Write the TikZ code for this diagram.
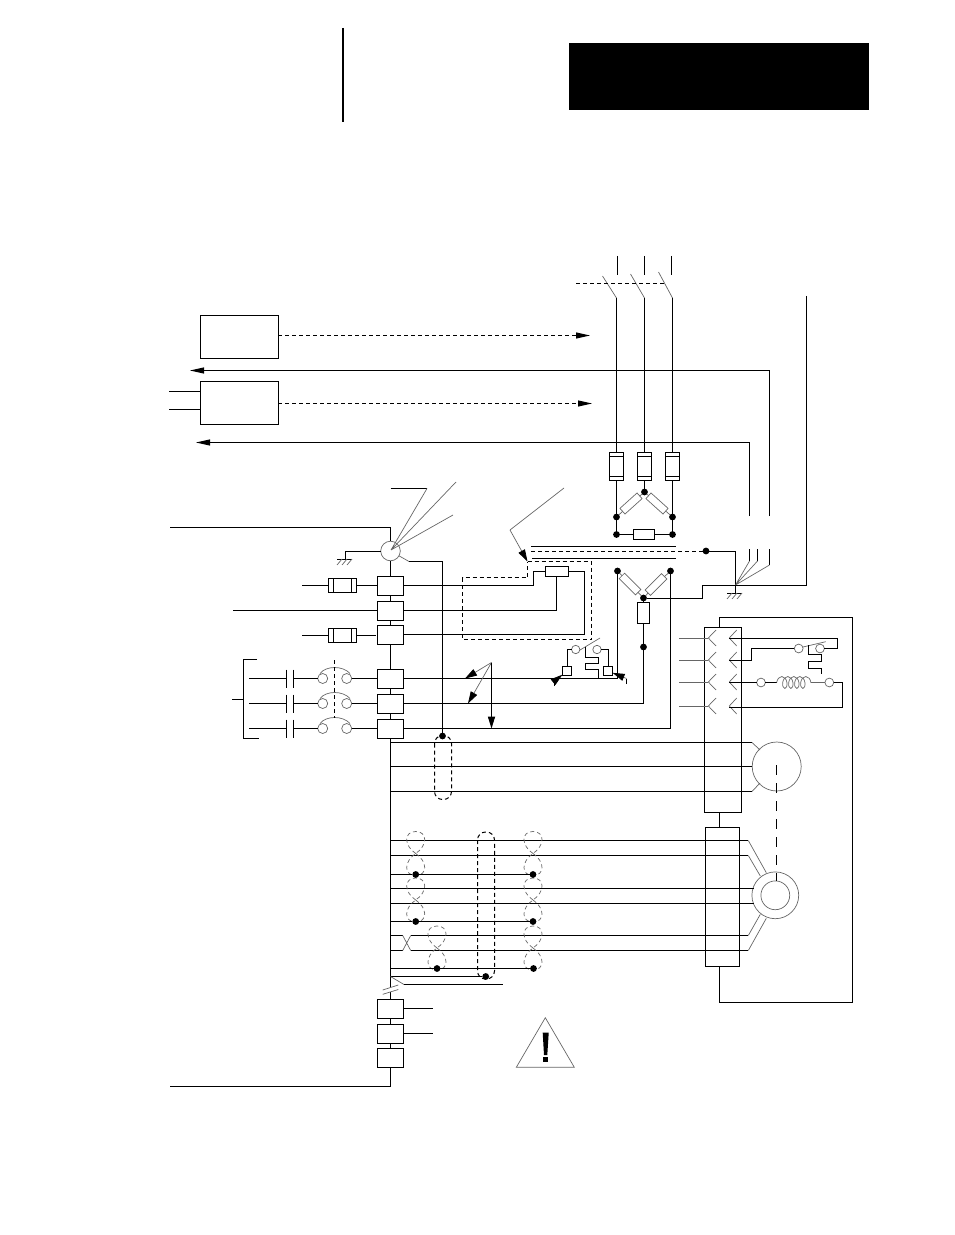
\documentclass[tikz,border=0pt]{standalone}
\usetikzlibrary{arrows.meta,decorations.pathmorphing}
\tikzset{
  termbox/.style={draw,fill=white,minimum width=13pt,minimum height=9.5pt,inner sep=0pt,outer sep=0pt},
  unitbox/.style={draw,inner sep=0pt,outer sep=0pt},
  dot/.style={circle,fill=black,inner sep=0pt,minimum size=3.4pt,outer sep=0pt},
  ring/.style={circle,draw=black!60,line width=0.35pt,inner sep=0pt,minimum size=4.4pt,outer sep=0pt},
  fusebox/.style={draw,inner sep=0pt,outer sep=0pt,minimum width=7pt,minimum height=14pt},
  sidefuse/.style={draw,inner sep=0pt,outer sep=0pt,minimum width=14pt,minimum height=7pt},
  resistor/.style={draw,inner sep=0pt,outer sep=0pt,minimum width=11pt,minimum height=5pt},
  slantres/.style={draw=black!60,line width=0.35pt,inner sep=0pt,outer sep=0pt,minimum width=11.5pt,minimum height=3.8pt},
  thinline/.style={line width=0.35pt,black!60},
  shortdash/.style={dash pattern=on 2pt off 1.5pt},
  longdash/.style={dash pattern=on 5pt off 4pt},
  pointer/.style={-{Triangle[length=7pt,width=3pt,black]}},
  fatpointer/.style={-{Triangle[length=6pt,width=3.6pt,black]}},
  earthmark/.pic={
    \draw (-8,0) -- (7,0);
    \draw[thinline] (-3,0) -- (-8,6) (2,0) -- (-3,6) (7,0) -- (2,6);
  },
  twistpair/.pic={
    \draw[thinline,shortdash] (0,0) .. controls (-12,-8) and (-12,-22) .. (0,-22)
      .. controls (12,-22) and (12,-8) .. (0,0)
      .. controls (-12,8) and (-12,22) .. (0,22)
      .. controls (12,22) and (12,8) .. (0,0);
  }
}
\begin{document}
\begin{tikzpicture}[x=0.5pt,y=-0.5pt,line width=0.5pt]
    \useasboundingbox (0,0) rectangle (954,1235);

    % Page header
    \draw[line width=1pt] (343,28) -- (343,122);
    \fill[black] (569,43) rectangle (869,110);

    % Control boxes
    \node[unitbox,minimum width=39pt,minimum height=21.7pt] (unitA) at (239.2,336.8) {};
    \node[unitbox,minimum width=39pt,minimum height=21.5pt] (unitB) at (239.2,402.5) {};
    \coordinate (unitAend) at (590,335.5);
    \coordinate (unitBend) at (592,403.5);
    \draw[pointer,shortdash] (unitA.east |- unitAend) -- (unitAend);
    \draw[pointer,shortdash] (unitB.east |- unitBend) -- (unitBend);
    \draw (169,391.5) -- (unitB.west |- 0,391.5);
    \draw (169,409.5) -- (unitB.west |- 0,409.5);

    % Feedback lines to the left
    \coordinate (fbA) at (769.5,516);
    \coordinate (fbB) at (749.5,516);
    \draw[pointer] (fbA) |- (190,370.5);
    \draw[pointer] (fbB) |- (196,442.5);

    % Mains switch and fuses
    \foreach \n/\px/\py in {1/616.5/276,2/644.5/274,3/672.5/272} {
        \node[fusebox] (fuse\n) at (\px,466) {};
        \draw (fuse\n.north west) ++(0,4) -- ++(14,0);
        \draw (fuse\n.south west) ++(0,-4) -- ++(14,0);
        \coordinate (blade\n) at (\px,298);
        \draw[thinline] (\px-14,\py) -- (blade\n);
        \draw (blade\n) -- (fuse\n);
    }
    \draw (617.5,256) -- (617.5,275);
    \draw (644.5,256) -- (644.5,275);
    \draw (671.5,256) -- (671.5,275);
    \draw[shortdash] (576,283.5) -- (665,283.5);

    % Upper star of resistors
    \node[dot] (topL) at (616.5,517) {};
    \node[dot] (topC) at (644.5,492) {};
    \node[dot] (topR) at (672.5,517) {};
    \node[dot] (lowL) at (616.5,534.5) {};
    \node[dot] (lowR) at (672.5,534.5) {};
    \node[slantres,rotate=42] (resTL) at (631,503.5) {};
    \node[slantres,rotate=-42] (resTR) at (657,503.5) {};
    \node[resistor,minimum width=10.5pt] (resTH) at (643.5,534.5) {};
    \draw (fuse1) -- (topL) -- (lowL) -- (resTH) -- (lowR) -- (topR) -- (fuse3);
    \draw (fuse2) -- (topC);
    \draw[thinline] (topL) -- (resTL) (resTL) -- (topC) (topC) -- (resTR) (resTR) -- (topR);

    % Bus lines in the middle
    \node[dot] (busDot) at (706,551) {};
    \draw (531,546.5) -- (676,546.5);
    \draw (532,558.5) -- (676,558.5);
    \draw[shortdash] (531,551) -- (busDot);

    % Ground point on the right
    \coordinate (earthR) at (735.5,585);
    \draw (busDot) -| (earthR) -- (735.5,593);
    \pic at (735,593) {earthmark};
    \draw (749.5,549) -- (749.5,561);
    \draw (757.5,549) -- (757.5,561);
    \draw (769.5,549) -- (769.5,565);
    \draw[thinline] (earthR) -- (749.5,561) (earthR) -- (757.5,561) (earthR) -- (769.5,565);

    % Lower star of resistors
    \node[dot] (starL) at (617.5,571) {};
    \node[dot] (starR) at (670.5,571) {};
    \node[dot] (starC) at (643.5,598) {};
    \node[dot] (starD) at (643.5,647) {};
    \node[slantres,rotate=-45] (resSL) at (630,584) {};
    \node[slantres,rotate=45] (resSR) at (656,584.5) {};
    \node[resistor,minimum width=5.6pt,minimum height=10.2pt] (resSD) at (643.5,613) {};
    \draw[thinline] (starL) -- (resSL) (resSL) -- (starC) (starC) -- (resSR) (resSR) -- (starR);
    \draw (starC) -- (resSD) -- (starD);
    \draw (806.5,296) |- (702.5,585.5) |- (starC);

    % Terminal column
    \node[termbox] (term1) at (390.5,585.5) {};
    \node[termbox] (term2) at (390.5,610.5) {};
    \node[termbox] (term3) at (390.5,634.5) {};
    \node[termbox] (term4) at (390.5,678.5) {};
    \node[termbox] (term5) at (390.5,703.5) {};
    \node[termbox] (term6) at (390.5,728.5) {};
    \node[termbox] (term7) at (390.5,1008.5) {};
    \node[termbox] (term8) at (390.5,1033.5) {};
    \node[termbox] (term9) at (390.5,1057.8) {};
    \node[circle,draw=black!60,line width=0.35pt,inner sep=0pt,outer sep=0pt,minimum size=9.8pt] (sensor) at (390.5,551) {};
    \coordinate (busEnd) at (390.5,988);
    \coordinate (busBreak) at (390.5,992);
    \draw (170,527.5) -| (sensor);
    \draw (sensor) -- (term1) -- (term2) -- (term3) -- (term4) -- (term5) -- (term6) -- (busEnd);
    \draw (busBreak) -- (term7) -- (term8) -- (term9);
    \draw (term9) |- (170,1086.5);
    \draw[thinline] (382.7,990) -- (398.3,985) (382.7,994.3) -- (398.3,989.5);
    \draw (term7) -- ++(42,0);
    \draw (term8) -- ++(42,0);

    % Sensor leads
    \draw (345.5,559) |- (sensor);
    \pic at (345,559) {earthmark};
    \coordinate (leadA) at (427,488.5);
    \draw (390.5,488.5) -- (leadA);
    \draw[thinline] (391,550) -- (leadA) (391,550) -- (456,482) (391,550) -- (453,515);
    \node[dot] (shieldDot) at (442.5,736) {};
    \coordinate (shieldKnee) at (409,561.5);
    \draw[thinline] (sensor) -- (shieldKnee);
    \draw (shieldKnee) -| (shieldDot);

    % Side fuses
    \node[sidefuse] (fuseA) at (342.5,585.5) {};
    \node[sidefuse] (fuseB) at (342.5,635.5) {};
    \foreach \f in {fuseA,fuseB} {
        \draw (\f.north west) ++(5,0) -- ++(0,14);
        \draw (\f.north east) ++(-5,0) -- ++(0,14);
    }
    \draw (302,585.5) -- (fuseA) -- (term1);
    \draw (302,635.5) -- (fuseB) -- (376,635.5);
    \draw (233,610.5) -- (term2);

    % Capacitors and contacts
    \foreach \n/\py in {4/678.5,5/703.5,6/728.5} {
        \node[ring,minimum size=5pt] (conL\n) at (322.7,\py) {};
        \node[ring,minimum size=5pt] (conR\n) at (346.7,\py) {};
        \draw[thinline] (320,\py-5) .. controls (326,\py-13) and (343,\py-13) .. (350,\py-5);
        \draw (286.5,\py-9) -- (286.5,\py+9) (293.5,\py-9) -- (293.5,\py+9);
        \draw (249,\py) -- (286.5,\py) (293.5,\py) -- (conL\n);
        \draw (conR\n) -- (term\n);
    }
    \draw[shortdash] (334,660) -- (334,718);
    \draw (257,659.5) -- (243.5,659.5) -- (243.5,738.5) -- (259,738.5);
    \draw (232,699.5) -- (243.5,699.5);

    % Dashed loop with inner resistor
    \node[resistor,minimum width=11.5pt] (resLoop) at (556.5,571.5) {};
    \coordinate (loopTip) at (527.5,561.5);
    \draw[shortdash] (loopTip) -- (591.5,561.5) -- (591.5,639.5) -- (462.5,639.5) -- (462.5,577.5) -- (527.5,577.5) -- cycle;
    \draw (term1) -- (533.5,585.5) |- (resLoop);
    \draw (term2) -| (resLoop);
    \draw (term3) -| (584.5,571.5) -- (resLoop);
    \draw[thinline] (564,488) -- (510,530);
    \draw[thinline,fatpointer] (510,530) -- (loopTip);

    % Lines from the terminals to the star
    \draw (starL) |- (term4);
    \draw (starD) |- (term5);
    \draw (starR) |- (term6);

    % Three pointers
    \coordinate (triTop) at (491.5,662.5);
    \draw[thinline,fatpointer] (triTop) -- (465,678.5);
    \draw[thinline,fatpointer] (triTop) -- (468,703.5);
    \draw[fatpointer] (triTop) -- (491.5,728.5);

    % Auxiliary switch
    \node[unitbox,minimum size=4.6pt] (auxA) at (567,671) {};
    \node[unitbox,minimum size=4.6pt] (auxB) at (608,671) {};
    \node[ring,minimum size=4.2pt] (auxRingA) at (575.7,649.5) {};
    \node[ring,minimum size=4.2pt] (auxRingB) at (597,649.5) {};
    \draw (auxA) |- (auxRingA);
    \draw (auxB) |- (auxRingB);
    \draw[thinline] (580,650) -- (600,638);
    \draw (585.5,647) -- (585.5,657.5) -- (598.5,657.5) -- (598.5,663.5) -- (585.5,663.5) -- (585.5,669.5) -- (598.5,669.5) -- (598.5,678);
    \draw (554.5,686) -- (554.5,681);
    \draw[fatpointer,thinline] (554.5,681) -- (auxA);
    \draw (626.5,684) -- (626.5,678.5);
    \draw[fatpointer,thinline] (626.5,678.5) -- (auxB);

    % Motor connector block
    \node[unitbox,minimum width=18.5pt,minimum height=92.4pt] (blockA) at (722.8,719.7) {};
    \node[unitbox,minimum width=17pt,minimum height=69.7pt] (blockB) at (722.3,897) {};
    \draw (719.5,812) -- (719.5,827.3);
    \draw (719.5,627.3) |- (852.5,617.5) |- (719.5,1002.5) -- (719.5,966.7);
    \foreach \py in {638,660,682,706} {
        \draw[thinline] (679,\py) -- (708.3,\py);
        \draw[thinline] (716,\py-8) -- (708.3,\py) -- (716,\py+8);
        \draw[thinline] (736.7,\py-8) -- (729.3,\py) -- (736.7,\py+8);
    }

    % Motor and shield
    \node[circle,draw=black!60,line width=0.35pt,inner sep=0pt,outer sep=0pt,minimum size=24.5pt] (motor) at (776.7,766.5) {};
    \coordinate (motorA) at (752,742.5);
    \coordinate (motorC) at (752,791.5);
    \draw (390.5,742.5) -- (motorA);
    \draw (390.5,766.5) -- (motor.west);
    \draw (390.5,791.5) -- (motorC);
    \draw[thinline] (motorA) -- (760,750) (motorC) -- (760,783);
    \draw[shortdash,rounded corners=4pt] (434.5,735.5) rectangle (451.5,799.5);

    % Encoder
    \node[circle,draw=black!60,line width=0.35pt,inner sep=0pt,outer sep=0pt,minimum size=23.4pt] (encoder) at (775.3,895.3) {};
    \node[circle,draw=black!60,line width=0.35pt,inner sep=0pt,outer sep=0pt,minimum size=14.4pt] (encoderIn) at (775.3,895.3) {};
    \draw[longdash] (776.5,765) -- (encoderIn.north -| 776.5,0);
    \draw (390.5,840.5) -- (748.3,840.5);
    \draw (390.5,855.5) -- (748.3,855.5);
    \draw (390.5,888.5) -- (754,888.5);
    \draw (390.5,903.5) -- (754,903.5);
    \draw (410.7,935.5) -- (748.3,935.5);
    \draw (410.7,950.5) -- (748.3,950.5);
    \draw[thinline] (748.3,840.5) -- (766.3,872.7) (748.3,855.5) -- (760.3,876);
    \draw[thinline] (748.3,935.5) -- (760.3,914.3) (748.3,950.5) -- (766.3,918.3);

    % Cross-over at the left of the last pair
    \draw (390.5,935.5) -- (402.7,935.5) (390.5,950.5) -- (402.7,950.5);
    \draw[thinline] (402.7,935.5) -- (410.7,950.5) (402.7,950.5) -- (410.7,935.5);

    % Twisted pairs
    \foreach \px/\py in {415.7/853.5,415.7/900,437/948,533/853.5,533/900,533/948}
        \pic at (\px,\py) {twistpair};
    \node[dot] (pairA) at (415.7,874.5) {};
    \node[dot] (pairB) at (415.7,921.5) {};
    \node[dot] (pairC) at (437,968.5) {};
    \node[dot] (pairD) at (533,874.5) {};
    \node[dot] (pairE) at (533,921.5) {};
    \node[dot] (pairF) at (533.5,968.5) {};
    \node[dot] (pairG) at (485.7,976.5) {};
    \draw (390.5,874.5) -- (pairA) -- (pairD);
    \draw (390.5,921.5) -- (pairB) -- (pairE);
    \draw (390.5,968.5) -- (pairC) -- (pairF);
    \draw (390.5,976.5) -- (pairG);
    \draw[thinline] (390.5,976.5) -- (404,984.5);
    \draw (404,984.5) -- (502.7,984.5);
    \draw[shortdash,rounded corners=4pt] (477.5,832) rectangle (494.5,979);

    % Coil and relay contact
    \node[ring] (relayA) at (798.7,648.5) {};
    \node[ring] (relayB) at (820,648.5) {};
    \node[ring] (coilA) at (761,682.5) {};
    \node[ring] (coilB) at (829.3,682.5) {};
    \draw (729.3,638.5) -| (837.5,648.5) -- (relayB);
    \draw (729.3,660.5) -| (751.5,648.5) -- (relayA);
    \draw[thinline] (803,647) -- (825.7,641.7);
    \draw (808.5,645) -- (808.5,654.5) -- (821.5,654.5) -- (821.5,661.5) -- (808.5,661.5) -- (808.5,668.5) -- (821.5,668.5) -- (821.5,674.3);
    \draw (729.3,682.5) -- (coilA);
    \draw (coilA) -- (776.7,682.5);
    \draw[thinline,decorate,decoration={coil,aspect=0.6,segment length=3pt,amplitude=3pt}] (776.7,682.5) -- (811,682.5);
    \draw[thinline] (811,682.5) -- (coilB);
    \draw (coilB) -| (842.5,707.5) -- (729.3,707.5);

    % Warning sign
    \draw[thinline] (545.3,1017.7) -- (574.3,1067.3) -- (516.3,1067.3) -- cycle;
    \fill[black] (542.7,1032.7) -- (548.7,1032.7) -- (547.3,1055) -- (544,1055) -- cycle;
    \fill[black] (543.3,1057.3) rectangle (548.3,1061.7);
\end{tikzpicture}
\end{document}
